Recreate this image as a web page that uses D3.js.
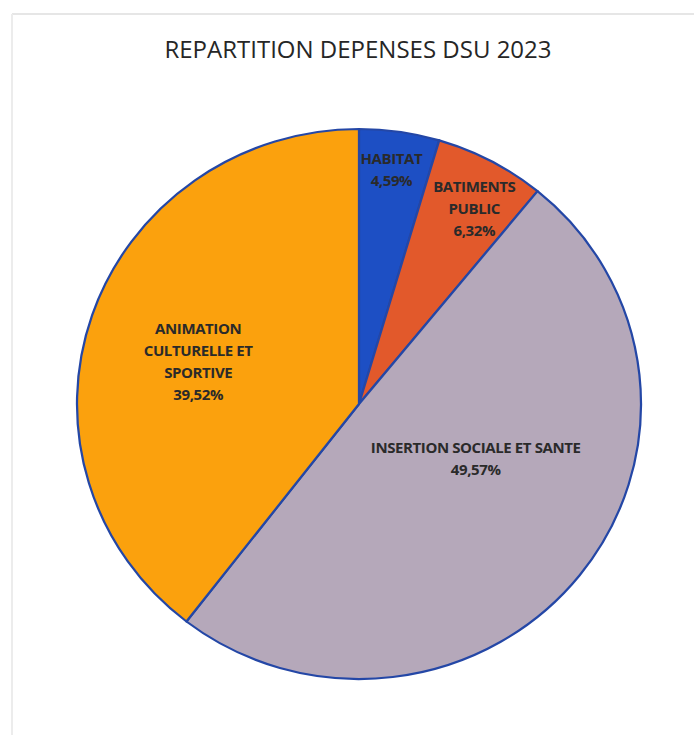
<!DOCTYPE html>
<html>
<head>
<meta charset="utf-8">
<script src="https://cdn.jsdelivr.net/npm/d3@7"></script>
<style>
  html, body { margin: 0; padding: 0; background: #ffffff; }
  svg { display: block; }
</style>
</head>
<body>
<svg id="chart" width="694" height="735"></svg>
<script>
// ---- Data ----
const categories = ["HABITAT", "BATIMENTS PUBLIC", "INSERTION SOCIALE ET SANTE", "ANIMATION CULTURELLE ET SPORTIVE"];
const values = [4.59, 6.32, 49.57, 39.52];
const labelLines = [
  ["HABITAT"],
  ["BATIMENTS", "PUBLIC"],
  ["INSERTION SOCIALE ET SANTE"],
  ["ANIMATION", "CULTURELLE ET", "SPORTIVE"]
];
const percentLabels = ["4,59%", "6,32%", "49,57%", "39,52%"];
const title = "REPARTITION DEPENSES DSU 2023";

// ---- Styles / layout ----
const colors = ["#1d4fc4", "#e2592b", "#b5a8ba", "#fba10d"];
const labelRadiusFactor = [0.86, 0.82, 0.46, 0.59];
const labelAngleShift = [-0.01, 0.035, -0.22, -0.07]; // radians
const W = 694, H = 735;
const cx = 359, cy = 404, R = 275, xStretch = 282 / 275;

const svg = d3.select("#chart");

// frame (scanned chart border)
svg.append("line").attr("x1", 12).attr("y1", 14).attr("x2", W).attr("y2", 14)
  .attr("stroke", "#e6e6e6").attr("stroke-width", 2);
svg.append("line").attr("x1", 12).attr("y1", 14).attr("x2", 12).attr("y2", H)
  .attr("stroke", "#ececec").attr("stroke-width", 2);

// title
svg.append("text")
  .attr("x", cx - 1).attr("y", 58)
  .attr("text-anchor", "middle")
  .attr("font-family", "'Open Sans', 'Liberation Sans', sans-serif")
  .attr("font-size", 24)
  .attr("fill", "#262626")
  .text(title);

const pie = d3.pie().sort(null).value(d => d)(values);
const arc = d3.arc().innerRadius(0).outerRadius(R);

const g = svg.append("g").attr("transform", `translate(${cx},${cy})`);
const gp = g.append("g").attr("transform", `scale(${xStretch},1)`);

gp.selectAll("path.slice")
  .data(pie)
  .join("path")
  .attr("class", "slice")
  .attr("d", arc)
  .attr("fill", (d, i) => colors[i])
  .attr("stroke", "#2447a6")
  .attr("stroke-width", 2.2)
  .attr("stroke-linejoin", "round");

// labels
const lineH = 22;
pie.forEach((d, i) => {
  const a = (d.startAngle + d.endAngle) / 2 + labelAngleShift[i];
  const rr = R * labelRadiusFactor[i];
  const x = rr * Math.sin(a) * xStretch;
  const y = -rr * Math.cos(a);
  const lines = labelLines[i].concat([percentLabels[i]]);
  const n = lines.length;
  const t = g.append("text")
    .attr("text-anchor", "middle")
    .attr("font-family", "'Open Sans', 'Liberation Sans', sans-serif")
    .attr("font-weight", "bold")
    .attr("font-size", 15)
    .attr("letter-spacing", "-0.4")
    .attr("fill", "#2a2a2a");
  lines.forEach((ln, k) => {
    t.append("tspan")
      .attr("x", x)
      .attr("y", y + (k - (n - 1) / 2) * lineH + 5)
      .text(ln);
  });
});
</script>
</body>
</html>
